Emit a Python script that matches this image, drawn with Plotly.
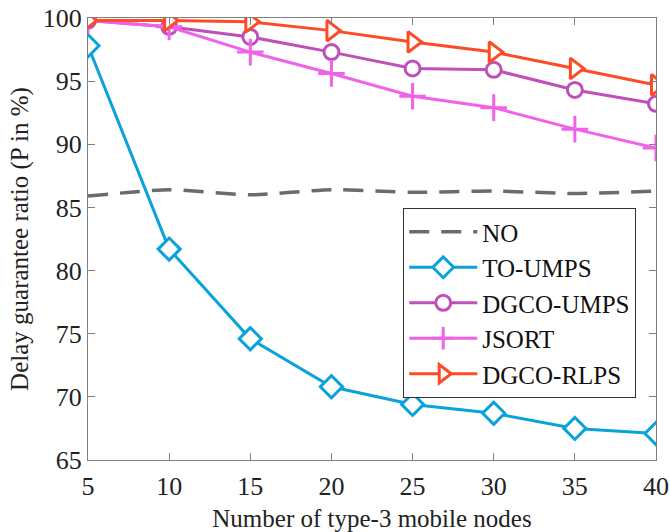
import plotly.graph_objects as go

# Number of type-3 mobile nodes
nodes = [5, 10, 15, 20, 25, 30, 35, 40]

# Delay guarantee ratio (%) per scheme
no_sched = [85.9, 86.4, 86.0, 86.4, 86.2, 86.3, 86.1, 86.3]
to_umps = [97.8, 81.7, 74.6, 70.8, 69.4, 68.7, 67.5, 67.1]
dgco_umps = [99.8, 99.3, 98.5, 97.3, 96.0, 95.9, 94.3, 93.2]
jsort = [99.8, 99.3, 97.3, 95.6, 93.8, 92.9, 91.2, 89.7]
dgco_rlps = [99.8, 99.8, 99.7, 99.0, 98.1, 97.3, 96.0, 94.7]

x_ticks = [5, 10, 15, 20, 25, 30, 35, 40]
y_ticks = [65, 70, 75, 80, 85, 90, 95, 100]

FONT = "Times New Roman, Liberation Serif, serif"

series = [
    ("NO", no_sched, "#6b6b6b", None, "20px,12px"),
    ("TO-UMPS", to_umps, "#0aa2dc", "diamond", "solid"),
    ("DGCO-UMPS", dgco_umps, "#c04fb9", "circle", "solid"),
    ("JSORT", jsort, "#f062ea", "cross-thin", "solid"),
    ("DGCO-RLPS", dgco_rlps, "#ff4a26", "triangle-right", "solid"),
]
marker_size = {"diamond": 17, "circle": 15, "cross-thin": 19, "triangle-right": 18}

fig = go.Figure()
for i, (name, vals, color, symbol, dash) in enumerate(series):
    if symbol is None:
        fig.add_trace(go.Scatter(
            x=nodes, y=vals, name=name, mode="lines",
            line=dict(color=color, width=3.5, dash=dash, shape="spline", smoothing=0.6),
            legendgroup=str(i),
        ))
    else:
        fill = color if symbol == "cross-thin" else "white"
        fig.add_trace(go.Scatter(
            x=nodes, y=vals, name=name, mode="lines+markers",
            line=dict(color=color, width=3),
            marker=dict(symbol=symbol, size=marker_size[symbol], color=fill,
                        line=dict(color=color, width=3)),
            legendgroup=str(i),
        ))

axis_common = dict(
    showline=True, linecolor="#808080", linewidth=1.2, mirror="ticks",
    ticks="inside", ticklen=7, tickcolor="#808080", tickwidth=1,
    showgrid=False, zeroline=False, automargin=False,
    tickfont=dict(family=FONT, size=26, color="#222"),
)

fig.update_layout(
    width=670, height=532,
    margin=dict(l=88, r=14, t=18, b=72),
    paper_bgcolor="white", plot_bgcolor="white",
    font=dict(family=FONT, size=25, color="#222"),
    xaxis=dict(range=[5, 40], tickvals=x_ticks, ticklabelstandoff=3,
               title=dict(text="Number of type-3 mobile nodes",
                          font=dict(family=FONT, size=25), standoff=12),
               **axis_common),
    yaxis=dict(range=[65, 100], tickvals=y_ticks,
               title=dict(text="Delay guarantee ratio (P in %)",
                          font=dict(family=FONT, size=25), standoff=6),
               **axis_common),
    legend=dict(
        x=0.555, y=0.570, xanchor="left", yanchor="top",
        bgcolor="white", bordercolor="#333", borderwidth=1,
        font=dict(family=FONT, size=25, color="#111"),
        traceorder="grouped", tracegroupgap=0, itemwidth=68,
    ),
    showlegend=True,
)

fig.write_html("out.html")
